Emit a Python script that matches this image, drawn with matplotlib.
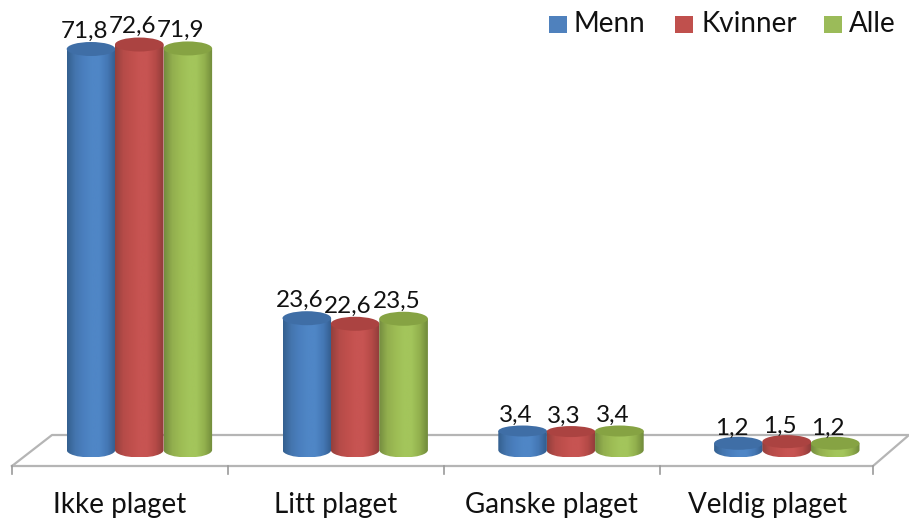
import numpy as np
import matplotlib
matplotlib.use("Agg")
import matplotlib.pyplot as plt
from matplotlib.patches import Ellipse, PathPatch, Rectangle
from matplotlib.path import Path
from matplotlib.colors import LinearSegmentedColormap
from matplotlib.transforms import Affine2D

categories = ["Ikke plaget", "Litt plaget", "Ganske plaget", "Veldig plaget"]
series = ["Menn", "Kvinner", "Alle"]
menn = [71.8, 23.6, 3.4, 1.2]
kvinner = [72.6, 22.6, 3.3, 1.5]
alle = [71.9, 23.5, 3.4, 1.2]
labels_menn = ["71,8", "23,6", "3,4", "1,2"]
labels_kvinner = ["72,6", "22,6", "3,3", "1,5"]
labels_alle = ["71,9", "23,5", "3,4", "1,2"]

W, H = 909, 519
plt.rcParams["font.family"] = ["Lato", "DejaVu Sans"]
fig = plt.figure(figsize=(W / 100, H / 100), dpi=100)
ax = fig.add_axes([0, 0, 1, 1])

PX_X, PX_Y = 215.8, 5.585
X0, Y0 = 120.0, 450.0          # pixel position of category 0 / value 0
XLIM = (-X0 / PX_X, (W - X0) / PX_X)
YLIM = ((Y0 - H) / PX_Y, Y0 / PX_Y)
ax.set_axis_off()

# pixel coordinates (y down) for the chart furniture
px = Affine2D().scale(1, -1).translate(0, H)
GREY = "#b5b5b5"
floor = [(12, 466), (873, 466), (909, 435), (52, 435), (12, 466)]
ax.plot(*zip(*floor), color=GREY, lw=1.6, transform=px, clip_on=False, zorder=1)
for t in [12, 228, 444, 660, 873]:
    ax.plot([t, t], [466, 474], color="#9a9a9a", lw=1.2, transform=px, zorder=1)

palettes = [
    (["#34608f", "#4475ae", "#4a7fbe", "#4f86c6", "#4f86c6", "#4477b4", "#335c8c"], "#3f6ea6"),
    (["#93403d", "#b54b48", "#c04f4c", "#c75452", "#c75452", "#b54a47", "#8f3c3a"], "#ab4341"),
    (["#748c3f", "#92ae4e", "#9dbc54", "#a3c55b", "#a3c55b", "#92b04d", "#708a3a"], "#86a343"),
]
hw = 24.3 / PX_X
offsets = np.array([-29.0, 19.3, 67.8]) / PX_X
LABEL_SHIFT = -5.0
LABEL_LIFT = [5.5, 5.0, 3.5, 3.5]
k = 0.5523
grad = np.linspace(0, 1, 128)[None, :]
flat = [7.0, 7.0, 5.5, 6.5]      # ellipse half heights of the top face, px

for s, (vals, txt, pal) in enumerate(zip([menn, kvinner, alle],
                                         [labels_menn, labels_kvinner, labels_alle], palettes)):
    cmap = LinearSegmentedColormap.from_list("c", pal[0])
    for i, (v, lab) in enumerate(zip(vals, txt)):
        xc = i + offsets[s]
        l, r = xc - hw, xc + hw
        ry = 7.5 / PX_Y
        verts = [(l, v), (l, 0), (l, -ry * k), (xc - hw * k, -ry), (xc, -ry),
                 (xc + hw * k, -ry), (r, -ry * k), (r, 0), (r, v), (l, v)]
        codes = [Path.MOVETO, Path.LINETO, Path.CURVE4, Path.CURVE4, Path.CURVE4,
                 Path.CURVE4, Path.CURVE4, Path.CURVE4, Path.LINETO, Path.CLOSEPOLY]
        patch = PathPatch(Path(verts, codes), fc="none", ec="none", zorder=3 + s)
        ax.add_patch(patch)
        im = ax.imshow(grad, extent=(l, r, -ry, v), cmap=cmap, aspect="auto", zorder=3 + s)
        im.set_clip_path(patch)
        ax.add_patch(Ellipse((xc, v), 2 * hw, 2 * flat[i] / PX_Y, fc=pal[1], ec="none", zorder=3 + s))
        ax.annotate(lab, (xc, v), xytext=(LABEL_SHIFT, LABEL_LIFT[i]), textcoords="offset points",
                    ha="center", va="bottom", fontsize=17.5, color="#111111", zorder=10)

ax.set_xlim(*XLIM)
ax.set_ylim(*YLIM)

for i, c in enumerate(categories):
    ax.text(i, -55.5 / PX_Y, c, ha="center", va="center", fontsize=20, color="#111111")

# legend
leg_sw = [(549, "#4f81bd"), (675, "#c0504d"), (824, "#9bbb59")]
leg_tx = [574, 701, 849]
for (x, col), tx, name in zip(leg_sw, leg_tx, series):
    ax.add_patch(Rectangle((x, 16), 18, 17, fc=col, ec="none", transform=px, zorder=5))
    ax.text(tx, 24, name, transform=px, ha="left", va="center", fontsize=20, color="#111111")

fig.savefig("out.png", dpi=100)
